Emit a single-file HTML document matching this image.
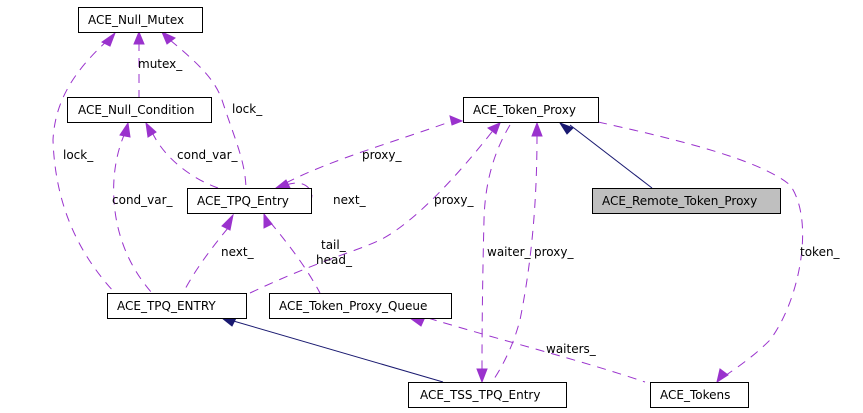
<!DOCTYPE html>
<html><head><meta charset="utf-8"><style>
html,body{margin:0;padding:0;background:#fff;}
svg{display:block;}
text{font-family:"DejaVu Sans","Liberation Sans",sans-serif;font-size:12px;fill:#000;}
.d{fill:none;stroke:#9a32cd;stroke-width:1;stroke-dasharray:9,7;}
.s{fill:none;stroke:#191970;stroke-width:1;}
.a{fill:#9a32cd;stroke:#9a32cd;}
.b{fill:#191970;stroke:#191970;}
rect{fill:#fff;stroke:#000;stroke-width:1;}
</style></head><body>
<svg width="863" height="413" viewBox="0 0 863 413" xmlns="http://www.w3.org/2000/svg">
<path class="d" d="M108,40 C75,70 55,100 53,140 C55,200 75,250 115,293"/>
<polygon class="a" points="115,33 102,42 110,46"/>
<path class="d" d="M139,42 L139,97"/>
<polygon class="a" points="139,32 134,44 144,44"/>
<path class="d" d="M170,40 C200,65 215,80 222,100 C235,140 245,160 246,188"/>
<polygon class="a" points="162,32 167,44 175,38"/>
<path class="d" d="M125,133 C108,170 105,240 152,293"/>
<polygon class="a" points="128,123 120,135 130,137"/>
<path class="d" d="M152,132 C165,160 195,180 218,188"/>
<polygon class="a" points="146,123 148,137 156,132"/>
<path class="d" d="M286,183 C330,160 400,140 455,120"/>
<polygon class="a" points="276,188 290,188 286,180"/>
<polygon class="a" points="462,121 450,116 452,125"/>
<path class="d" d="M286,185 C300,180 310,185 312,195 C310,215 295,215 280,212"/>
<path class="d" d="M228,228 C210,250 195,270 183,293"/>
<polygon class="a" points="233,215 222,226 230,230"/>
<path class="d" d="M270,222 C285,240 305,265 320,293"/>
<polygon class="a" points="264,214 264,228 272,224"/>
<path class="d" d="M250,293 C320,260 360,250 380,240 C420,220 470,160 495,128"/>
<polygon class="a" points="500,123 488,128 496,134"/>
<path class="d" d="M510,125 C495,150 485,180 484,220 C482,300 482,350 482,372"/>
<polygon class="a" points="482,382 477,369 487,369"/>
<path class="d" d="M537,135 C537,200 532,260 520,320 C512,350 500,370 492,382"/>
<polygon class="a" points="537,123 532,136 542,136"/>
<path class="d" d="M598,122 C680,140 760,160 790,185 C815,220 800,300 770,340 C750,360 730,372 722,378"/>
<polygon class="a" points="717,382 720,369 728,375"/>
<path class="d" d="M428,318 C500,340 580,360 645,382"/>
<polygon class="a" points="410,318 425,317 421,326"/>
<path class="s" d="M570,125 L652,188"/>
<polygon class="b" points="560,123 573,128 567,134"/>
<path class="s" d="M230,320 L443,382"/>
<polygon class="b" points="222,318 236,318 232,326"/>
<text x="138" y="68">mutex_</text>
<text x="232" y="113">lock_</text>
<text x="63" y="159">lock_</text>
<text x="177" y="159">cond_var_</text>
<text x="112" y="204">cond_var_</text>
<text x="362" y="159">proxy_</text>
<text x="333" y="204">next_</text>
<text x="434" y="204">proxy_</text>
<text x="221" y="256">next_</text>
<text x="321" y="249">tail_</text>
<text x="316" y="264">head_</text>
<text x="487" y="256">waiter_</text>
<text x="534" y="256">proxy_</text>
<text x="800" y="256">token_</text>
<text x="546" y="353">waiters_</text>
<rect x="78.5" y="7.5" width="124" height="25"/><text x="88" y="24">ACE_Null_Mutex</text>
<rect x="67.5" y="97.5" width="144" height="25"/><text x="78" y="114">ACE_Null_Condition</text>
<rect x="187.5" y="188.5" width="124" height="25"/><text x="197" y="205">ACE_TPQ_Entry</text>
<rect x="463.5" y="97.5" width="135" height="25"/><text x="473" y="114">ACE_Token_Proxy</text>
<rect x="592.5" y="188.5" width="188" height="25" style="fill:#bfbfbf"/><text x="602" y="205">ACE_Remote_Token_Proxy</text>
<rect x="107.5" y="293.5" width="139" height="25"/><text x="117" y="310">ACE_TPQ_ENTRY</text>
<rect x="269.5" y="293.5" width="182" height="25"/><text x="279" y="310">ACE_Token_Proxy_Queue</text>
<rect x="408.5" y="382.5" width="158" height="25"/><text x="420" y="399">ACE_TSS_TPQ_Entry</text>
<rect x="650.5" y="382.5" width="98" height="25"/><text x="660" y="399">ACE_Tokens</text>
</svg>
</body></html>
